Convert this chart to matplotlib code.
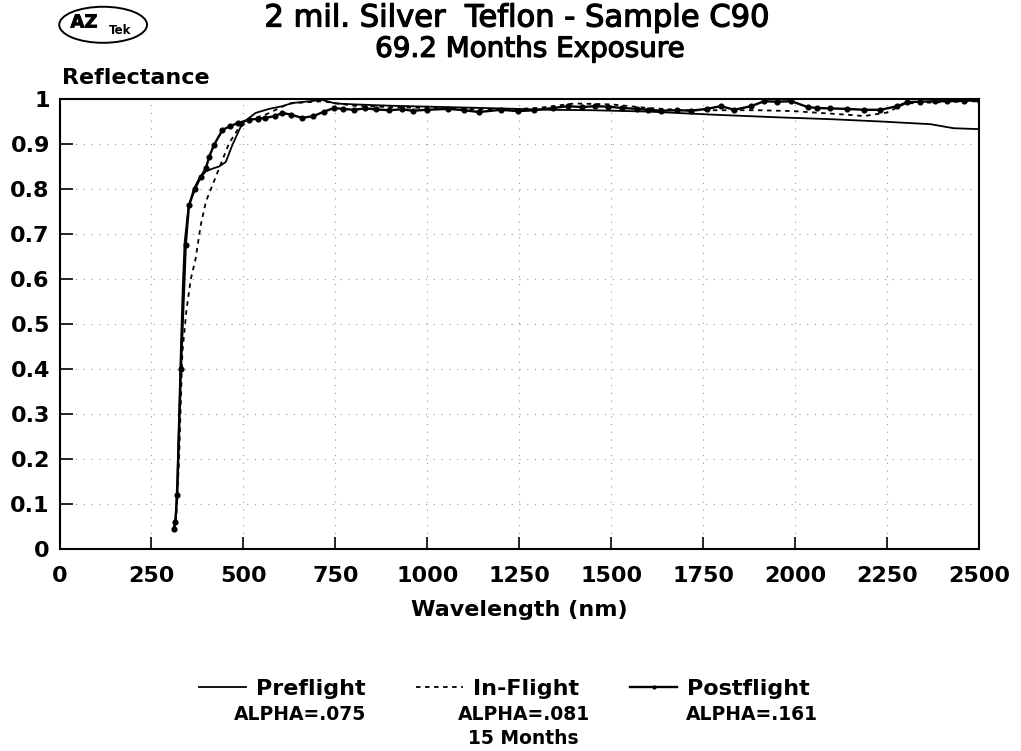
import matplotlib
matplotlib.use("Agg")
import matplotlib.pyplot as plt
from matplotlib.patches import Ellipse
import matplotlib.patheffects as pe

plt.rcParams['font.family'] = ['DejaVu Sans']

# ---------------- data ----------------
pre_wl = [310, 315, 320, 325, 330, 335, 340, 350, 365, 380, 398, 415, 434, 452, 470,
          497, 533, 570, 606, 633, 680, 714, 750, 800, 900, 1000, 1100, 1200, 1329,
          1450, 1600, 1781, 1961, 2100, 2232, 2368, 2431, 2500]
pre_r = [0.04, 0.06, 0.15, 0.30, 0.45, 0.58, 0.68, 0.757, 0.80, 0.824, 0.839, 0.845,
         0.85, 0.86, 0.898, 0.946, 0.969, 0.978, 0.984, 0.991, 0.995, 0.998, 0.99,
         0.988, 0.985, 0.983, 0.981, 0.979, 0.976, 0.975, 0.972, 0.965, 0.959, 0.955,
         0.950, 0.944, 0.935, 0.933]

inf_wl = [312, 318, 325, 334, 345, 357, 370, 384, 398, 416, 434, 461, 484, 515, 560,
          624, 714, 800, 900, 1000, 1100, 1200, 1300, 1400, 1500, 1600, 1700, 1800,
          1900, 1997, 2050, 2142, 2187, 2250, 2300, 2400, 2500]
inf_r = [0.04, 0.08, 0.2, 0.437, 0.53, 0.6, 0.645, 0.72, 0.772, 0.809, 0.846, 0.902,
         0.931, 0.954, 0.965, 0.99, 0.995, 0.985, 0.982, 0.98, 0.978, 0.976, 0.98,
         0.99, 0.988, 0.98, 0.975, 0.975, 0.975, 0.973, 0.97, 0.965, 0.962, 0.97,
         0.99, 0.993, 0.995]

post_wl = [310, 315, 320, 330, 343, 352, 368, 384, 398, 407, 420, 443, 464, 484, 515,
           540, 560, 585, 606, 630, 660, 690, 720, 746, 770, 800, 830, 860, 895, 930,
           960, 1000, 1057, 1100, 1140, 1200, 1247, 1290, 1342, 1383, 1420, 1455, 1490,
           1530, 1570, 1600, 1635, 1680, 1717, 1760, 1798, 1835, 1880, 1916, 1950,
           1990, 2034, 2060, 2096, 2140, 2187, 2232, 2278, 2305, 2340, 2380, 2413,
           2460, 2500]
post_r = [0.045, 0.06, 0.12, 0.40, 0.675, 0.764, 0.80, 0.827, 0.846, 0.872, 0.898,
          0.931, 0.94, 0.946, 0.954, 0.956, 0.958, 0.962, 0.969, 0.965, 0.958, 0.962,
          0.972, 0.98, 0.978, 0.976, 0.979, 0.977, 0.975, 0.977, 0.974, 0.976, 0.978,
          0.975, 0.971, 0.976, 0.973, 0.975, 0.98, 0.984, 0.982, 0.984, 0.983, 0.98,
          0.978, 0.976, 0.974, 0.975, 0.974, 0.978, 0.984, 0.976, 0.984, 0.995, 0.994,
          0.995, 0.982, 0.98, 0.979, 0.978, 0.976, 0.976, 0.984, 0.993, 0.994, 0.995,
          0.995, 0.996, 0.997]

x_ticks = [0, 250, 500, 750, 1000, 1250, 1500, 1750, 2000, 2250, 2500]
y_ticks = [0, 0.1, 0.2, 0.3, 0.4, 0.5, 0.6, 0.7, 0.8, 0.9, 1]
y_labels = ['0', '0.1', '0.2', '0.3', '0.4', '0.5', '0.6', '0.7', '0.8', '0.9', '1']

series_names = ['Preflight', 'In-Flight', 'Postflight']
alpha_texts = ['ALPHA=.075', 'ALPHA=.081', 'ALPHA=.161']

# ---------------- figure ----------------
fig = plt.figure(figsize=(10.21, 7.51), dpi=100)
ax = fig.add_axes([0.0583, 0.269, 0.9006, 0.5992])

l1, = ax.plot(pre_wl, pre_r, color='black', lw=1.3, ls='-')
l2, = ax.plot(inf_wl, inf_r, color='black', lw=1.3, ls=(0, (2.5, 2.5)))
l3, = ax.plot(post_wl, post_r, color='black', lw=1.7, ls='-', marker='o', ms=3.4)

ax.set_xlim(0, 2500)
ax.set_ylim(0, 1)
ax.set_xticks(x_ticks)
ax.set_yticks(y_ticks)
ax.set_yticklabels(y_labels)
ax.grid(True, color='#9a9a9a', ls=(0, (1, 6)), lw=0.8)
ax.tick_params(axis='x', direction='in', length=9, width=1.2, pad=12, labelsize=16)
ax.tick_params(axis='y', direction='in', length=9, width=1.2, pad=7, labelsize=16)
for lab in ax.get_xticklabels() + ax.get_yticklabels():
    lab.set_fontweight('bold')
for s in ax.spines.values():
    s.set_linewidth(1.5)

ax.set_xlabel('Wavelength (nm)', fontsize=16, fontweight='bold', labelpad=10)

fig.text(0.061, 0.896, 'Reflectance', fontsize=16, fontweight='bold',
         ha='left', va='center')
thick = [pe.withStroke(linewidth=0.9, foreground='black')]
fig.text(0.506, 0.976, '2 mil. Silver  Teflon - Sample C90', fontsize=22,
         ha='center', va='center', path_effects=thick)
fig.text(0.519, 0.935, '69.2 Months Exposure', fontsize=20, ha='center',
         va='center', path_effects=thick)

# logo
logo = Ellipse((0.101, 0.967), 0.086, 0.048, transform=fig.transFigure,
               fill=False, ec='black', lw=1.4)
fig.add_artist(logo)
fig.text(0.069, 0.970, 'AZ', fontsize=13, ha='left', va='center', fontweight='bold',
         path_effects=[pe.withStroke(linewidth=0.6, foreground='black')])
fig.text(0.107, 0.960, 'Tek', fontsize=8.5, ha='left', va='center', fontweight='bold')

# legend
leg = fig.legend([l1, l2, l3], series_names, loc='center', ncol=3,
                 bbox_to_anchor=(0.494, 0.083), frameon=False, fontsize=16,
                 handlelength=2.1, handletextpad=0.45, columnspacing=2.3,
                 markerscale=0.6, borderaxespad=0, borderpad=0)
for t in leg.get_texts():
    t.set_fontweight('bold')

alpha_x = [0.294, 0.513, 0.736]
for xx, txt in zip(alpha_x, alpha_texts):
    fig.text(xx, 0.049, txt, fontsize=13.5, ha='center', va='center', fontweight='bold')
fig.text(0.513, 0.017, '15 Months', fontsize=13.5, ha='center', va='center',
         fontweight='bold')

fig.savefig('out.png', dpi=100)
